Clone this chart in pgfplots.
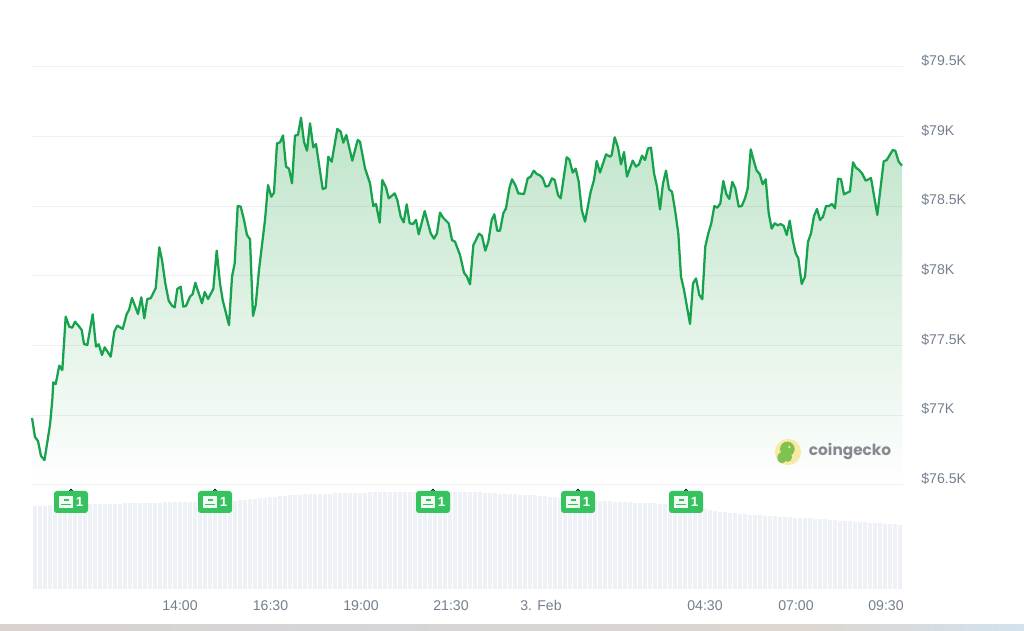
\documentclass[border=0pt]{standalone}
\usepackage{pgfplots}
\usepackage{pgfplotstable}
\usepackage{fontspec}
\setmainfont{Liberation Sans}
\newfontfamily\logofont{Poppins}
\pgfplotsset{compat=1.18}
\definecolor{linegreen}{HTML}{17A34D}
\definecolor{fillgreen}{HTML}{B4E0C0}
\definecolor{tickgrey}{HTML}{74808E}
\definecolor{volbar}{HTML}{EEF1F6}
\definecolor{badge}{HTML}{35C25F}
\definecolor{stripA}{HTML}{D9D2CF}
\definecolor{stripB}{HTML}{D5D5D8}
\definecolor{stripC}{HTML}{DDD5CF}
\definecolor{stripD}{HTML}{D2E2EE}
\definecolor{logotext}{HTML}{858A90}
\definecolor{logoyellow}{HTML}{F8E9A6}
\definecolor{logogreen}{HTML}{7FC24F}
\pgfplotstableread{
x y
32 76981
35 76844
38 76816
41 76708
44.5 76679
50 76931
52.3 77110
53.3 77237
55.7 77225
59.3 77357
62.3 77325
65.7 77708
69.3 77636
72.3 77629
75 77672
79.3 77636
81.7 77612
84 77512
87.3 77505
92.7 77725
96 77493
98.7 77510
102 77433
104.7 77488
110.7 77421
114.3 77601
117.3 77644
122.7 77620
126.7 77727
129 77756
132 77842
138 77727
141.3 77847
144.3 77696
147.3 77835
150.7 77840
155.7 77912
159.3 78206
162 78115
165.3 77947
168.7 77823
172 77787
174.7 77775
177.3 77907
180.7 77923
183.3 77780
186 77785
190 77852
192.7 77871
195.3 77952
202 77804
204.7 77885
208 77835
213.3 77907
216.7 78182
220 77947
222.7 77828
226 77732
229 77648
232 77995
234.7 78091
237.7 78502
240.7 78498
244 78402
247 78294
250 78263
253 77713
255.7 77792
259 78043
265 78402
268 78653
271.3 78569
274 78598
277 78952
280 78959
283 79009
286 78785
289 78770
292 78665
295 79007
298 79014
301 79136
304 78964
307 78899
310 79096
313.3 78923
316 78947
322.7 78624
325.7 78632
328.3 78856
331.7 78820
337.3 79055
340.7 79036
343.3 78957
346.3 79012
352.3 78828
357.7 78976
360 78964
365 78773
370 78665
373.3 78502
376 78517
379.7 78383
382.3 78689
386 78636
388.7 78557
394.7 78593
397.3 78545
400.7 78426
403.7 78385
406.7 78514
409.7 78378
413 78373
416 78402
418.7 78299
424.7 78466
430.7 78306
434 78268
437 78306
440 78455
443 78419
448.7 78378
452 78258
455 78246
460 78151
464 78024
467 77995
470 77940
473.3 78220
479 78304
482 78287
485.3 78182
488.3 78246
491.7 78402
494.3 78443
497.3 78325
500 78325
503.3 78450
506 78486
509.3 78629
512 78694
515.3 78653
518.3 78593
524 78588
527.7 78701
530.7 78713
533.7 78756
536.7 78732
540 78722
542.7 78701
545.7 78641
548.7 78648
552 78701
554.7 78689
558 78581
560.7 78557
566.7 78852
569.3 78837
572.7 78742
575.7 78770
578.7 78677
581.7 78474
585 78390
590.7 78605
594 78689
596.7 78825
600 78742
606 78873
610 78856
611.7 78868
614.7 78995
618 78923
621 78801
624 78890
627 78713
632.7 78828
636 78785
639 78801
642 78864
645 78832
648 78916
651 78921
654 78737
657 78641
660 78478
663 78665
666 78756
669 78622
672 78605
675 78474
678.3 78306
681 77995
684 77900
690 77656
693 77947
696 77983
699.3 77864
702.3 77833
705.3 78211
708.3 78306
711.3 78378
714.3 78502
717.3 78490
720.3 78521
723.3 78682
726.3 78588
729.3 78553
732.3 78675
735.3 78629
738.7 78498
741.7 78502
745 78557
747.7 78629
750.7 78909
754 78820
756.7 78756
759.7 78732
762.7 78658
765.7 78694
768.7 78450
771.7 78340
774.7 78378
777.7 78364
780.7 78373
783.7 78359
786.7 78294
789.7 78397
792.7 78258
795.7 78163
798.3 78127
801.7 77943
805 77995
808 78246
811 78306
814 78431
817 78481
820 78402
823 78426
826 78502
829 78502
832 78517
835 78486
838 78698
841 78694
844 78586
850 78608
853 78816
856 78777
859 78761
862 78737
865.7 78684
871 78703
877.3 78438
883.7 78823
886.7 78832
892.7 78904
895.3 78899
898.7 78820
902 78792
}\price
\pgfplotstableread{
x y
35 83
40 83
45 83
50 84
55 84
60 84
65 84
70 84
75 84
80 84
85 85
90 85
95 85
100 85
105 85
110 85
115 85
120 85
125 86
130 86
135 86
140 86
145 86
150 86
155 86
160 86
165 87
170 87
175 87
180 87
185 87
190 87
195 87
200 87
205 87
210 87
215 87
220 87
225 88
230 88
235 88
240 89
245 89
250 90
255 90
260 91
265 91
270 92
275 92
280 93
285 93
290 94
295 94
300 94
305 95
310 95
315 95
320 95
325 95
330 95
335 96
340 96
345 96
350 96
355 96
360 96
365 96
370 97
375 97
380 97
385 97
390 97
395 97
400 97
405 97
410 97
415 97
420 97
425 97
430 97
435 97
440 97
445 97
450 97
455 97
460 97
465 97
470 97
475 97
480 97
485 96
490 96
495 96
500 95
505 95
510 95
515 95
520 94
525 94
530 94
535 94
540 93
545 93
550 92
555 92
560 91
565 91
570 91
575 90
580 90
585 90
590 89
595 89
600 88
605 88
610 88
615 87
620 87
625 87
630 87
635 86
640 86
645 86
650 86
655 86
660 85
665 85
670 85
675 85
680 84
685 84
690 83
695 82
700 81
705 80
710 79
715 78
720 77
725 77
730 76
735 76
740 75
745 75
750 74
755 74
760 74
765 73
770 73
775 73
780 72
785 72
790 72
795 71
800 71
805 71
810 71
815 70
820 70
825 70
830 69
835 69
840 68
845 68
850 68
855 67
860 67
865 67
870 66
875 66
880 66
885 65
890 65
895 65
900 64
}\volume
\pgfplotstableread{
x y
71 87
215 87
433 87
578 87
686 87
}\news
\pgfplotstableread{
x y
71 98.5
215 98.5
433 98.5
578 98.5
686 98.5
}\newspin
\newcommand{\badgetext}{\raisebox{-1.2pt}{\textcolor{white!92!badge}{\rule{11pt}{9.5pt}}\llap{\textcolor{badge}{\rule[5.5pt]{3.5pt}{1.6pt}\hspace{3.5pt}}}\llap{\textcolor{badge}{\rule[2.6pt]{7pt}{0.6pt}\hspace{2pt}}}}\hspace{1.8pt}\textcolor{white}{\bfseries 1}}
\begin{document}
\begin{tikzpicture}
\path[use as bounding box] (0,0) rectangle (768pt,473.25pt);
\fill[white] (0,0) rectangle (768pt,473.25pt);
\shade[left color=stripA,right color=stripB] (0,0) rectangle (256pt,4.8pt);
\shade[left color=stripB,right color=stripC] (256pt,0) rectangle (600pt,4.8pt);
\shade[left color=stripC,right color=stripD] (600pt,0) rectangle (768pt,4.8pt);
% price axis
\begin{axis}[
  at={(24pt,99.05pt)},anchor=south west,
  scale only axis,width=653.25pt,height=334.4pt,
  xmin=32,xmax=903,ymin=76400,ymax=79600,
  axis line style={draw=none},tick style={draw=none},
  scaled y ticks=false,
  xtick=\empty,
  ytick={76500,77000,77500,78000,78500,79000,79500},
  yticklabels={\$76.5K,\$77K,\$77.5K,\$78K,\$78.5K,\$79K,\$79.5K},
  yticklabel pos=right,
  yticklabel style={font=\fontsize{10.6pt}{12pt}\selectfont,text=tickgrey,xshift=10.2pt,yshift=4.6pt,anchor=west},
  ymajorgrids,grid style={black,opacity=0.055,line width=0.75pt},
  axis on top,
  clip=false,
]
\addplot[draw=none,shade,top color=fillgreen,bottom color=white,fill opacity=0.85] table {\price} -- (axis cs:902,76500) -- (axis cs:32,76500) -- cycle;
\addplot[linegreen,line width=1.7pt,line join=round,mark=none] table {\price};
\end{axis}
% volume axis
\begin{axis}[
  at={(24pt,31.5pt)},anchor=south west,
  scale only axis,width=653.25pt,height=78pt,
  xmin=32,xmax=903,ymin=0,ymax=104,
  axis line style={draw=none},tick style={draw=none},
  ytick=\empty,
  xtick={180,270.5,361,451,541,705,796,886},
  xticklabels={14:00,16:30,19:00,21:30,3. Feb,04:30,07:00,09:30},
  xticklabel style={font=\fontsize{10.6pt}{12pt}\selectfont,text=tickgrey,text height=8pt,text depth=0pt,yshift=-4.4pt},
  clip=false,
]
\addplot[ycomb,volbar,line width=3.1pt,mark=none] table {\volume};
\addplot[only marks,mark=*,mark size=1.1pt,mark options={fill=badge,draw=none}] table {\newspin};
\addplot[only marks,mark=none,
  nodes near coords={\badgetext},
  every node near coord/.style={anchor=center,fill=badge,rounded corners=2.2pt,minimum width=25.5pt,minimum height=16.5pt,inner sep=0pt,font=\fontsize{10pt}{11pt}\selectfont},
] table {\news};
\end{axis}
% watermark
\fill[logoyellow] (591pt,134.25pt) circle (9.8pt);
\fill[logogreen] (590.5pt,136.5pt) ellipse (5.5pt and 5.5pt);
\fill[logogreen] (586.5pt,130pt) ellipse (3.6pt and 4.2pt);
\fill[logogreen] (591pt,130.5pt) ellipse (3pt and 3.6pt);
\fill[logoyellow] (592pt,138pt) circle (1pt);
\node[anchor=west,inner sep=0pt,text=logotext] at (606.5pt,134.6pt) {\logofont\bfseries\fontsize{11.5pt}{13pt}\selectfont coingecko};
\end{tikzpicture}
\end{document}
